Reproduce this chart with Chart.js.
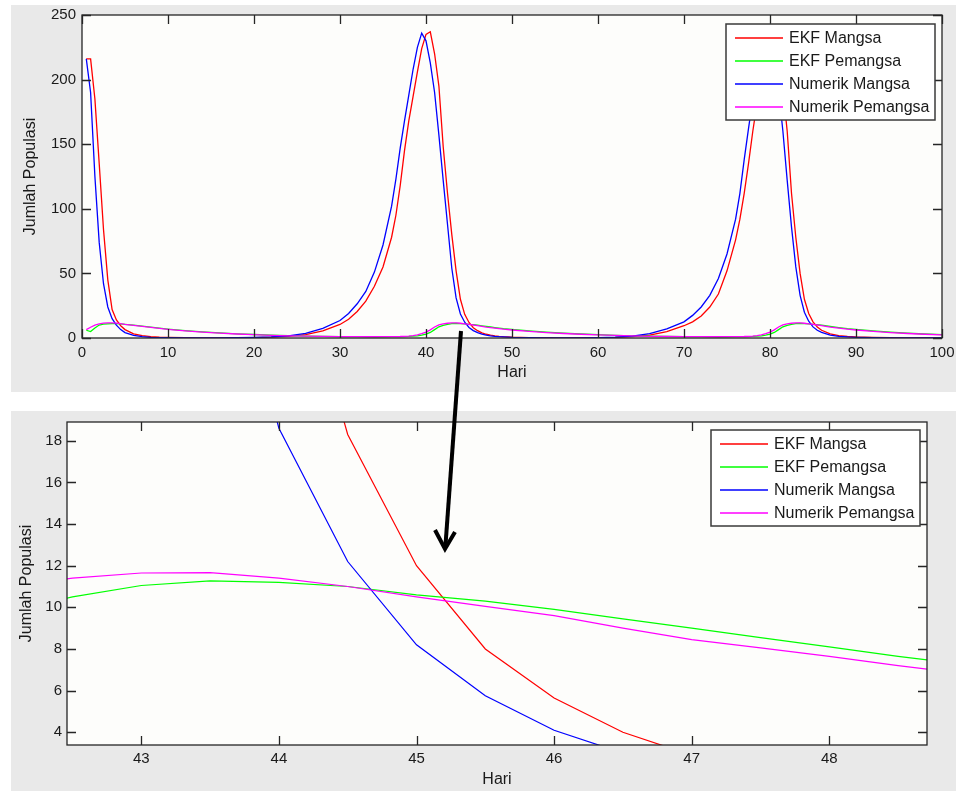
<!DOCTYPE html>
<html>
<head>
<meta charset="utf-8">
<script src="https://cdn.jsdelivr.net/npm/chart.js@4.4.0/dist/chart.umd.min.js"></script>
<style>
  body { margin: 0; background: #fff; width: 956px; height: 791px; position: relative; overflow: hidden; }
  canvas.panel { position: absolute; background: #e9e9e9; }
  #atas { left: 11px; top: 5px; }
  #bawah { left: 11px; top: 411px; }
  svg { position: absolute; left: 0; top: 0; pointer-events: none; }
</style>
</head>
<body>
<canvas id="atas" class="panel" width="945" height="387"></canvas>
<canvas id="bawah" class="panel" width="945" height="380"></canvas>
<svg width="956" height="791">
  <line x1="461" y1="331" x2="445.5" y2="545" stroke="#000" stroke-width="4"/>
  <polyline points="435,530 445,549 455,532" fill="none" stroke="#000" stroke-width="4" stroke-linejoin="miter"/>
</svg>
<script>
// hari (waktu), tidak seragam: rapat di sekitar puncak
const hari = [0.5, 1, 1.5, 2, 2.5, 3, 3.5, 4, 4.5, 5,
  6, 7, 8, 9, 10,
  12, 14, 16, 18, 20, 22, 24, 26, 28, 30,
  31, 32, 33, 34, 35, 36,
  36.5, 37, 37.5, 38, 38.5, 39, 39.5, 40, 40.5, 41, 41.5, 42, 42.5, 43, 43.5, 44, 44.5, 45, 45.5, 46, 46.5, 47, 47.5, 48, 48.5, 49,
  50, 52, 54, 56, 58, 60, 62, 64, 66, 68, 70,
  71, 72, 73, 74, 75, 76,
  76.5, 77, 77.5, 78, 78.5, 79, 79.5, 80, 80.5, 81, 81.5, 82, 82.5, 83, 83.5, 84, 84.5, 85, 85.5,
  86, 87, 88, 89, 90,
  92, 94, 96, 98, 100];

const ekfMangsa = [216, 216, 185, 135, 84, 45, 22, 14, 9.5, 6.5,
  3.2, 1.8, 1.0, 0.6, 0.4,
  0.2, 0.15, 0.15, 0.2, 0.3, 0.6, 1.2, 2.6, 5.5, 10.5,
  14.5, 20.5, 28.5, 40, 55, 78,
  95, 118, 145, 168, 187, 206, 224, 235, 237, 220, 195, 148, 112, 80, 52, 30, 18.3, 12.0, 8.0, 5.65, 4.0, 2.9, 2.2, 1.7, 1.3, 1.05,
  0.7, 0.35, 0.2, 0.15, 0.2, 0.3, 0.5, 1.0, 2.3, 5.0, 9.5,
  12.5, 17, 24, 34, 52, 76,
  92, 112, 135, 160, 182, 205, 222, 234, 237, 220, 193, 160, 112, 78, 50, 30, 19, 12.5, 8.5,
  6.0, 3.2, 1.9, 1.2, 0.8,
  0.4, 0.2, 0.15, 0.2, 0.3];

const ekfPemangsa = [6.0, 5.0, 7.8, 10.0, 10.7, 11.0, 11.1, 11.1, 10.9, 10.6,
  10.0, 9.2, 8.4, 7.6, 6.9,
  5.7, 4.7, 3.9, 3.2, 2.7, 2.2, 1.8, 1.5, 1.3, 1.1,
  1.05, 1.0, 1.0, 0.95, 0.95, 1.0,
  1.0, 1.05, 1.1, 1.2, 1.4, 1.7, 2.2, 3.0, 4.3, 6.5, 8.7, 9.8, 10.5, 11.05, 11.27, 11.2, 11.0, 10.6, 10.3, 9.9, 9.45, 9.0, 8.55, 8.1, 7.65, 7.25,
  6.6, 5.5, 4.6, 3.8, 3.1, 2.6, 2.1, 1.7, 1.4, 1.2, 1.1,
  1.05, 1.0, 1.0, 0.95, 0.95, 1.0,
  1.0, 1.05, 1.1, 1.2, 1.4, 1.7, 2.2, 3.0, 4.3, 6.5, 8.7, 9.8, 10.5, 11.05, 11.27, 11.2, 11.0, 10.6, 10.3,
  9.9, 9.0, 8.1, 7.25, 6.6,
  5.5, 4.6, 3.8, 3.1, 2.6];

const numerikMangsa = [216, 190, 125, 74, 42, 24, 15, 10, 6.5, 4.2,
  2.0, 1.0, 0.5, 0.3, 0.2,
  0.1, 0.1, 0.15, 0.25, 0.45, 0.8, 1.6, 3.5, 7.5, 13.5,
  19, 26.5, 36, 51, 72, 102,
  123, 147, 168, 188, 208, 225, 236, 230, 213, 190, 157, 122, 88, 54, 31, 18.6, 12.2, 8.2, 5.75, 4.1, 3.0, 2.2, 1.7, 1.3, 1.0, 0.8,
  0.5, 0.25, 0.12, 0.1, 0.15, 0.3, 0.7, 1.5, 3.3, 7.0, 12.5,
  17.5, 24, 33, 46, 65, 92,
  112, 138, 162, 185, 205, 222, 234, 232, 216, 192, 160, 122, 86, 55, 33, 20, 13, 8.6, 6.0,
  4.3, 2.3, 1.3, 0.8, 0.55,
  0.25, 0.12, 0.1, 0.12, 0.2];

const numerikPemangsa = [6.5, 8.3, 10.0, 11.0, 11.5, 11.7, 11.7, 11.5, 11.1, 10.6,
  9.8, 9.0, 8.2, 7.4, 6.7,
  5.5, 4.5, 3.7, 3.1, 2.6, 2.1, 1.7, 1.4, 1.2, 1.05,
  1.0, 1.0, 0.95, 0.95, 1.0, 1.05,
  1.1, 1.15, 1.3, 1.5, 1.9, 2.4, 3.3, 4.5, 6.3, 8.5, 10.2, 11.0, 11.4, 11.65, 11.67, 11.4, 11.0, 10.5, 10.05, 9.6, 9.0, 8.45, 8.05, 7.65, 7.2, 6.8,
  6.2, 5.1, 4.2, 3.5, 2.9, 2.4, 2.0, 1.6, 1.3, 1.15, 1.05,
  1.0, 1.0, 0.95, 0.95, 1.0, 1.05,
  1.1, 1.15, 1.3, 1.5, 1.9, 2.4, 3.3, 4.5, 6.3, 8.5, 10.2, 11.0, 11.4, 11.65, 11.67, 11.4, 11.0, 10.5, 10.05,
  9.6, 8.45, 7.65, 6.8, 6.2,
  5.1, 4.2, 3.5, 2.9, 2.4];

const labelSeri = ['EKF Mangsa', 'EKF Pemangsa', 'Numerik Mangsa', 'Numerik Pemangsa'];
const warnaSeri = ['#ff0000', '#00ff00', '#0000ff', '#ff00ff'];

const xTicksAtas = [0, 10, 20, 30, 40, 50, 60, 70, 80, 90, 100];
const yTicksAtas = [0, 50, 100, 150, 200, 250];
const xTicksBawah = [43, 44, 45, 46, 47, 48];
const yTicksBawah = [4, 6, 8, 10, 12, 14, 16, 18];

const FONT = '"Liberation Sans", Arial, Helvetica, sans-serif';
const TEKS = '#1a1a1a';

// sumbu ala MATLAB: kotak, tick ke dalam di keempat sisi, judul sumbu, legenda berbingkai
const matlabAxes = {
  id: 'matlabAxes',
  beforeDraw(chart) {
    const a = chart.chartArea, ctx = chart.ctx;
    ctx.save();
    ctx.fillStyle = '#fdfdfb';
    ctx.fillRect(a.left, a.top, a.right - a.left, a.bottom - a.top);
    ctx.restore();
  },
  afterDraw(chart, args, opts) {
    const a = chart.chartArea, ctx = chart.ctx;
    const xs = chart.scales.x, ys = chart.scales.y;
    ctx.save();
    ctx.strokeStyle = '#262626';
    ctx.lineWidth = 1.3;
    ctx.strokeRect(a.left, a.top, a.right - a.left, a.bottom - a.top);
    const t = 9;
    ctx.beginPath();
    xs.ticks.forEach(tk => {
      const px = Math.round(xs.getPixelForValue(tk.value)) + 0.5;
      ctx.moveTo(px, a.bottom); ctx.lineTo(px, a.bottom - t);
      ctx.moveTo(px, a.top); ctx.lineTo(px, a.top + t);
    });
    ys.ticks.forEach(tk => {
      const py = Math.round(ys.getPixelForValue(tk.value)) + 0.5;
      ctx.moveTo(a.left, py); ctx.lineTo(a.left + t, py);
      ctx.moveTo(a.right, py); ctx.lineTo(a.right - t, py);
    });
    ctx.stroke();

    // judul sumbu
    ctx.fillStyle = TEKS;
    ctx.font = '16px ' + FONT;
    ctx.textAlign = 'center';
    ctx.textBaseline = 'middle';
    ctx.fillText('Hari', (a.left + a.right) / 2, a.bottom + opts.xTitleOffset);
    ctx.save();
    ctx.translate(a.left - opts.yTitleOffset, (a.top + a.bottom) / 2);
    ctx.rotate(-Math.PI / 2);
    ctx.fillText('Jumlah Populasi', 0, 0);
    ctx.restore();

    // legenda
    const lw = 209, lh = 96;
    const lx = a.right - 7 - lw, ly = a.top + opts.legendTop;
    ctx.fillStyle = '#ffffff';
    ctx.fillRect(lx, ly, lw, lh);
    ctx.strokeStyle = '#3a3a3a';
    ctx.lineWidth = 1.5;
    ctx.strokeRect(lx, ly, lw, lh);
    ctx.textAlign = 'left';
    ctx.font = '16px ' + FONT;
    chart.data.datasets.forEach((ds, i) => {
      const cy = ly + 14 + i * 23;
      ctx.strokeStyle = ds.borderColor;
      ctx.lineWidth = 1.6;
      ctx.beginPath();
      ctx.moveTo(lx + 9, cy); ctx.lineTo(lx + 57, cy);
      ctx.stroke();
      ctx.fillStyle = TEKS;
      ctx.fillText(ds.label, lx + 63, cy + 1);
    });
    ctx.restore();
  }
};

function nolkanPadding(s) {
  s.paddingTop = 0; s.paddingBottom = 0; s.paddingLeft = 0; s.paddingRight = 0;
}

function buatGrafik(id, cfg) {
  const datasets = [ekfMangsa, ekfPemangsa, numerikMangsa, numerikPemangsa].map((nilai, i) => ({
    label: labelSeri[i],
    data: hari.map((h, k) => ({ x: h, y: nilai[k] })),
    borderColor: warnaSeri[i],
    borderWidth: cfg.tebal,
    pointRadius: 0,
    tension: 0,
    fill: false,
    order: 4 - i
  }));
  const tickFont = { family: FONT, size: 15 };
  return new Chart(document.getElementById(id), {
    type: 'line',
    data: { datasets },
    options: {
      responsive: false,
      animation: false,
      events: [],
      layout: { padding: { top: cfg.padTop, right: cfg.padRight, left: 0, bottom: 0 } },
      plugins: {
        legend: { display: false },
        tooltip: { enabled: false },
        matlabAxes: { xTitleOffset: 35, yTitleOffset: cfg.yTitleOffset, legendTop: cfg.legendTop }
      },
      scales: {
        x: {
          type: 'linear',
          min: cfg.xMin, max: cfg.xMax,
          afterBuildTicks: s => { s.ticks = cfg.xTicks.map(v => ({ value: v })); },
          afterFit: s => { s.height = cfg.xHeight; nolkanPadding(s); },
          grid: { display: false, drawTicks: false },
          border: { display: false },
          ticks: { color: TEKS, font: tickFont, padding: cfg.xPad, maxRotation: 0, autoSkip: false }
        },
        y: {
          type: 'linear',
          min: cfg.yMin, max: cfg.yMax,
          afterBuildTicks: s => { s.ticks = cfg.yTicks.map(v => ({ value: v })); },
          afterFit: s => { s.width = cfg.yWidth; nolkanPadding(s); },
          grid: { display: false, drawTicks: false },
          border: { display: false },
          ticks: { color: TEKS, font: tickFont, padding: cfg.yPad, autoSkip: false }
        }
      }
    },
    plugins: [matlabAxes]
  });
}

buatGrafik('atas', {
  xMin: 0, xMax: 100, yMin: 0, yMax: 250,
  xTicks: xTicksAtas, yTicks: yTicksAtas,
  padTop: 10, padRight: 14, xHeight: 54, yWidth: 71,
  xPad: 6, yPad: 6, yTitleOffset: 51, legendTop: 9, tebal: 1.3
});

buatGrafik('bawah', {
  xMin: 42.46, xMax: 48.71, yMin: 3.39, yMax: 18.9,
  xTicks: xTicksBawah, yTicks: yTicksBawah,
  padTop: 11, padRight: 29, xHeight: 46, yWidth: 56,
  xPad: 5, yPad: 5, yTitleOffset: 40, legendTop: 8, tebal: 1.2
});
</script>
</body>
</html>
